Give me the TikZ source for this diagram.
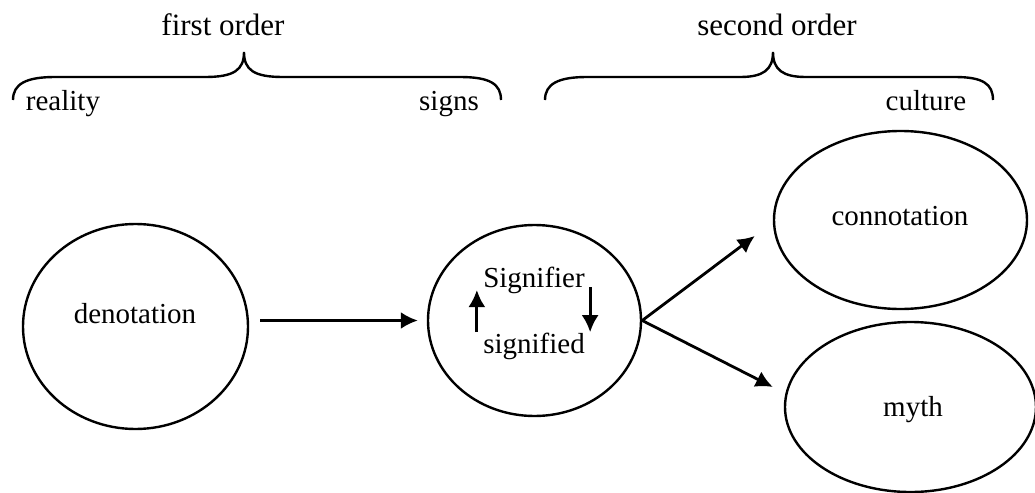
\documentclass[tikz,border=0pt]{standalone}
\usepackage{fontspec}
\setmainfont{Liberation Serif}
\usetikzlibrary{shapes.geometric,arrows.meta,positioning,calc}

\tikzset{
	oval/.style={draw,ellipse,line width=1.2pt,inner sep=0pt},
	word/.style={font=\fontsize{14.5}{17}\selectfont,inner sep=0pt,anchor=base},
	head/.style={font=\fontsize{15.5}{18}\selectfont,inner sep=0pt,anchor=base},
	arr/.style={-{Latex[length=8.5pt,width=8.5pt]},line width=1.4pt},
	brace/.style={line width=1.2pt}
}

\begin{document}
\begin{tikzpicture}[x=0.5pt,y=-0.5pt]
		\useasboundingbox (0,0) rectangle (1035,493);
		\draw[brace] (13,100) .. controls (13,84) and (26,77) .. (55,77) -- (205,77) .. controls (234,77) and (244,70) .. (244,52) .. controls (244,70) and (254,77) .. (283,77) -- (460,77) .. controls (490,77) and (501,84) .. (501,100);
		\draw[brace] (545,100) .. controls (545,84) and (558,77) .. (587,77) -- (740,77) .. controls (763,77) and (773,70) .. (773,52) .. controls (773,70) and (783,77) .. (806,77) -- (955,77) .. controls (983,77) and (993,84) .. (993,100);
		\node[head] (first) at (223,35) {first order};
		\node[head] (second) at (777,35) {second order};
		\node[word] (real) at (63,110) {reality};
		\node[word] (signs) at (449,110) {signs};
		\node[word] (cult) at (926,110) {culture};
			\node[oval,minimum width=112.5pt,minimum height=102.5pt] (den) at (135.5,326.5) {};
			\node[oval,minimum width=106.5pt,minimum height=95.5pt] (sig) at (534.5,320.5) {};
			\node[oval,minimum width=126.5pt,minimum height=89pt] (con) at (900.5,220) {};
			\node[oval,minimum width=125.5pt,minimum height=85pt] (myth) at (910.5,407) {};
		\node[word] (den-t) at (135,323) {denotation};
		\node[word] (con-t) at (900,225) {connotation};
		\node[word] (myth-t) at (913,416) {myth};
		\node[word] (sgr) at (534,287) {Signifier};
		\node[word] (sgd) at (534,353) {signified};
			\draw[arr,shorten <=5.5pt,shorten >=4.5pt] (den.east |- sig.west) -- (sig.west);
			\draw[arr] (sig.east) -- ([xshift=-9pt,yshift=-8pt]con.west);
			\draw[arr] (sig.east) -- ([xshift=-5.5pt,yshift=10pt]myth.west);
			\draw[arr] ([xshift=-3pt]sgd.north west) -- ([xshift=-3pt,yshift=-1.5pt]sgr.base west);
			\draw[arr] ([xshift=2.5pt]sgr.base east) -- ([xshift=2.5pt]sgd.north east);
	\end{tikzpicture}
\end{document}
